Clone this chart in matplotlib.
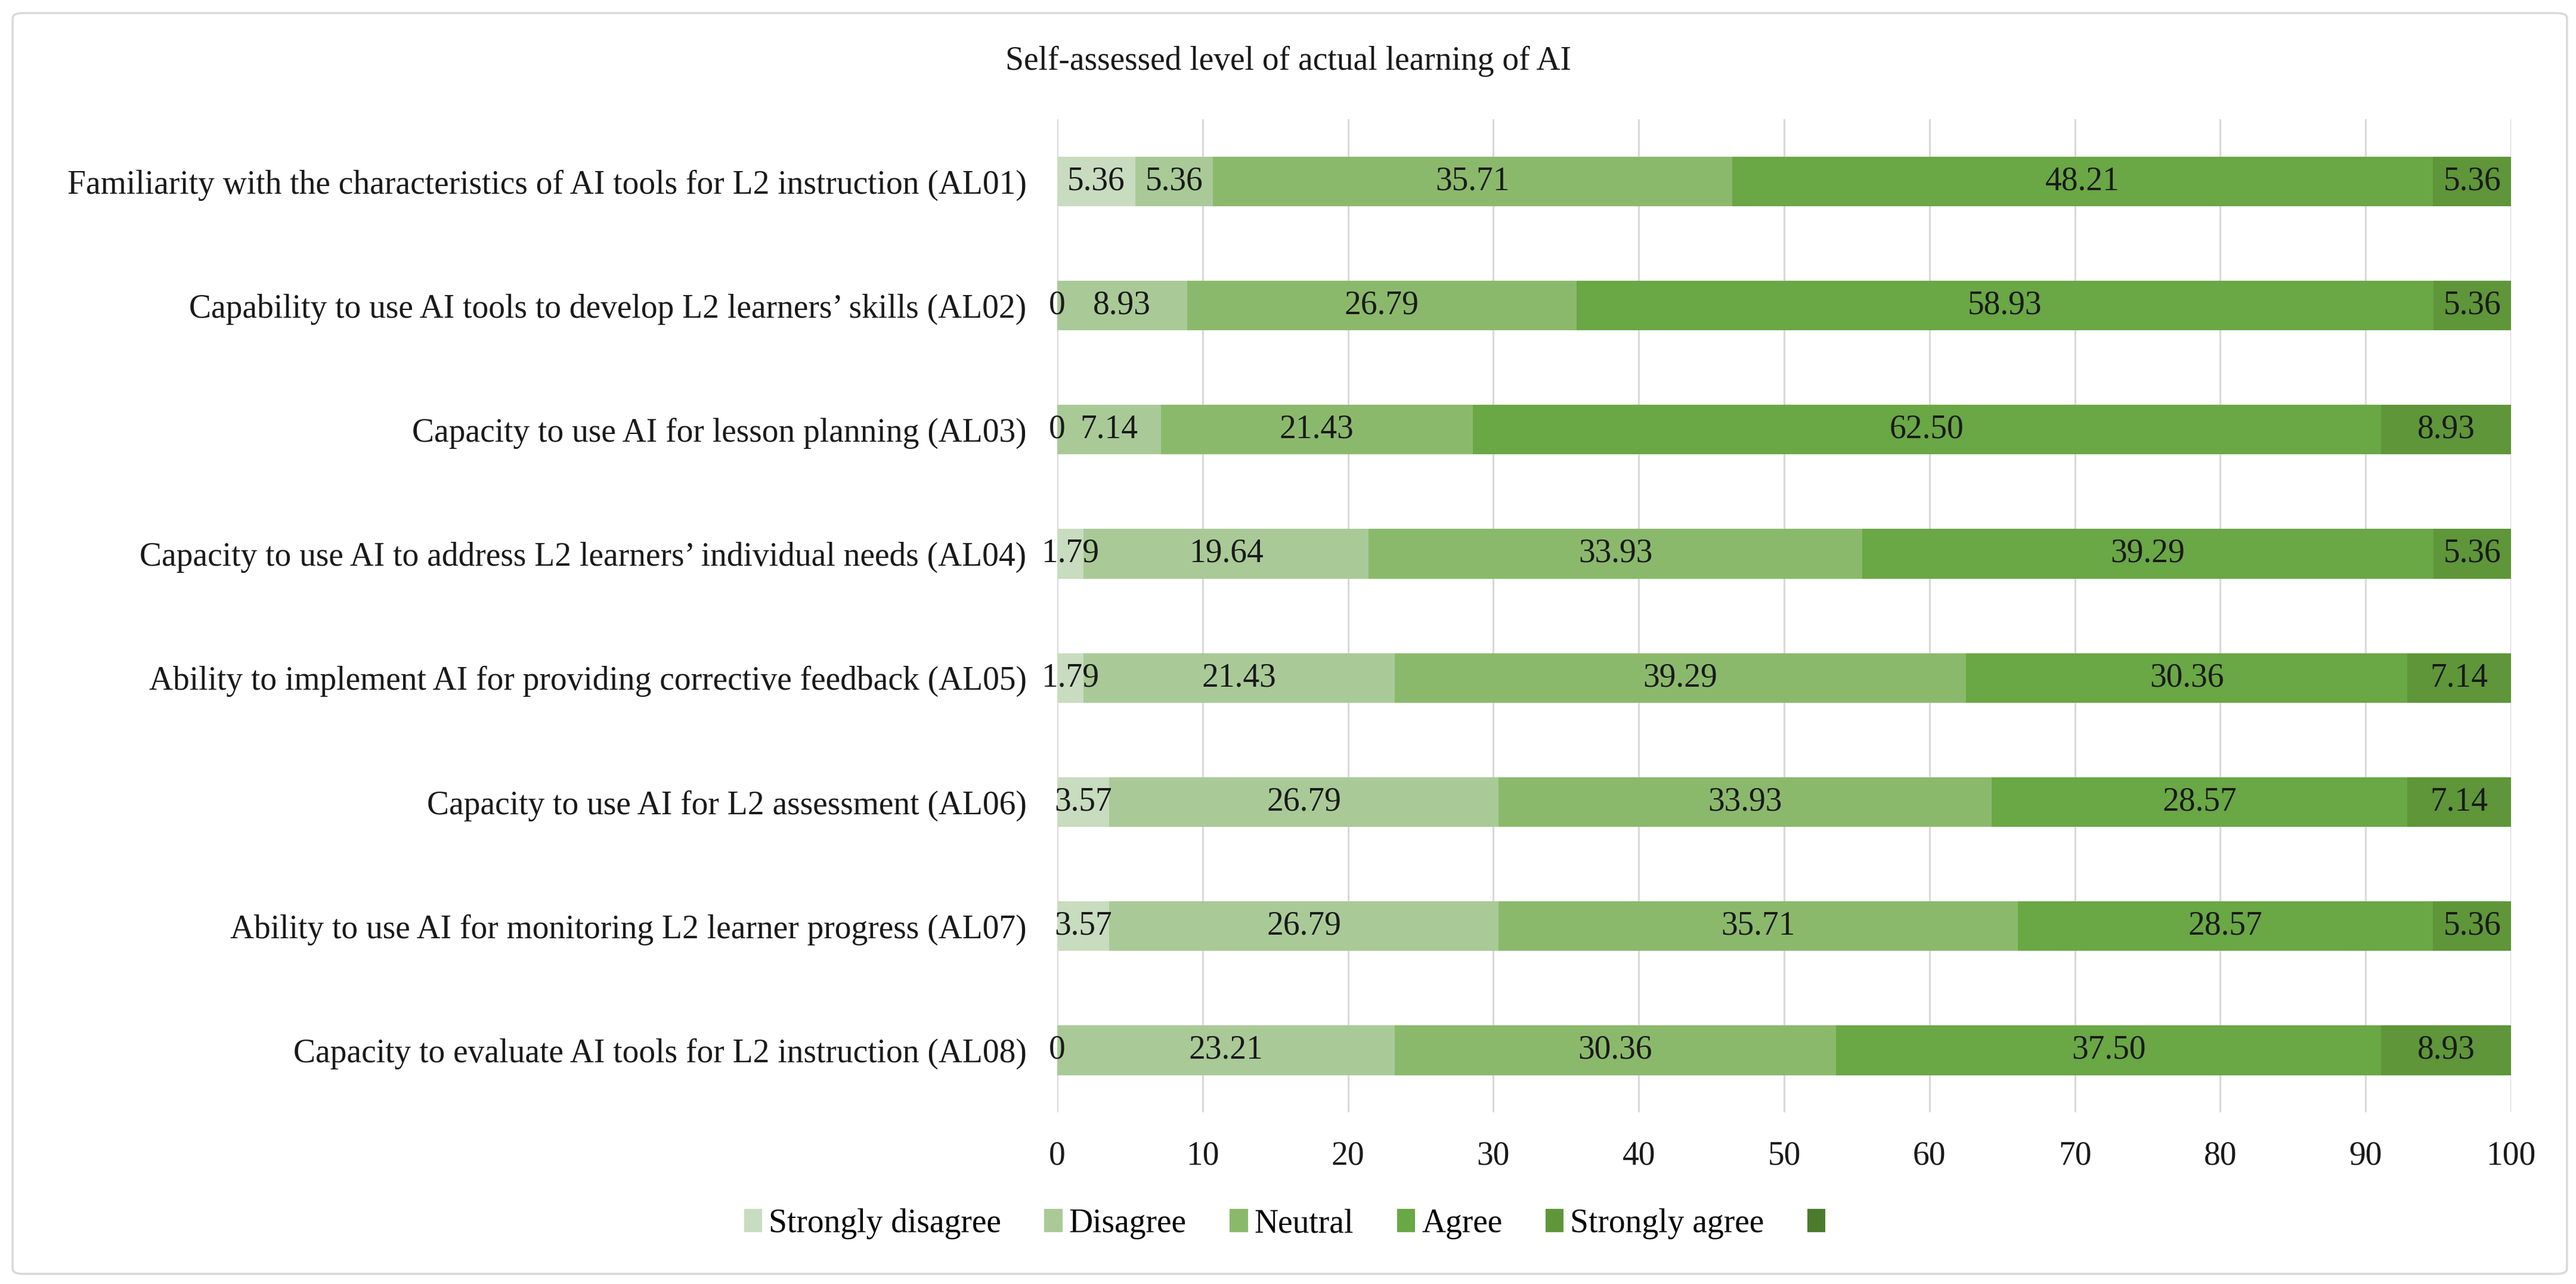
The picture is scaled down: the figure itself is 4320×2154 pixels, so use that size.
import matplotlib
matplotlib.use("Agg")
import matplotlib.pyplot as plt
from matplotlib.patches import Patch, FancyBboxPatch
import numpy as np

# chart data
items = [
    "Familiarity with the characteristics of AI tools for L2 instruction (AL01)",
    "Capability to use AI tools to develop L2 learners\u2019 skills (AL02)",
    "Capacity to use AI for lesson planning (AL03)",
    "Capacity to use AI to address L2 learners\u2019 individual needs (AL04)",
    "Ability to implement AI for providing corrective feedback (AL05)",
    "Capacity to use AI for L2 assessment (AL06)",
    "Ability to use AI for monitoring L2 learner progress (AL07)",
    "Capacity to evaluate AI tools for L2 instruction (AL08)",
]
strongly_disagree = [5.36, 0, 0, 1.79, 1.79, 3.57, 3.57, 0]
disagree = [5.36, 8.93, 7.14, 19.64, 21.43, 26.79, 26.79, 23.21]
neutral = [35.71, 26.79, 21.43, 33.93, 39.29, 33.93, 35.71, 30.36]
agree = [48.21, 58.93, 62.50, 39.29, 30.36, 28.57, 28.57, 37.50]
strongly_agree = [5.36, 5.36, 8.93, 5.36, 7.14, 7.14, 5.36, 8.93]
legend_labels = ["Strongly disagree", "Disagree", "Neutral", "Agree", "Strongly agree", ""]
x_ticks = [0, 10, 20, 30, 40, 50, 60, 70, 80, 90, 100]

series = [strongly_disagree, disagree, neutral, agree, strongly_agree]
colors = ["#c8dcbf", "#a9ca97", "#8bb96c", "#6aa745", "#5e9639", "#4c7b2d"]

plt.rcParams["font.family"] = ["Liberation Serif", "DejaVu Serif"]
FS = 40

fig = plt.figure(figsize=(43.2, 21.54), dpi=100)
ax = fig.add_axes([0.4104, 0.1337, 0.5644, 0.7734])

# outer frame
frame = FancyBboxPatch((0.0049, 0.0079), 0.9916, 0.9819,
                       boxstyle="round,pad=0,rounding_size=0.004",
                       transform=fig.transFigure, facecolor="none",
                       edgecolor="#d9d9d9", linewidth=2.5, zorder=0)
fig.patches.append(frame)

y = np.arange(len(items))
left = np.zeros(len(items))
for vals, col in zip(series, colors):
    bars = ax.barh(y, vals, left=left, height=0.4, color=col, zorder=3)
    for b, v in zip(bars, vals):
        txt = "0" if v == 0 else f"{v:.2f}"
        ax.text(b.get_x() + b.get_width() / 2, b.get_y() + b.get_height() / 2,
                txt, ha="center", va="center", fontsize=FS, color="#1a1a1a", zorder=4)
    left += np.array(vals)

ax.set_xlim(0, 100)
ax.set_ylim(len(items) - 0.5, -0.5)
ax.set_xticks(x_ticks)
ax.set_yticks(y)
ax.set_yticklabels(items)
ax.tick_params(axis="both", length=0, labelsize=FS, colors="#1a1a1a")
ax.tick_params(axis="y", pad=37)
ax.tick_params(axis="x", pad=34)
ax.grid(axis="x", color="#d9d9d9", linewidth=2.2, zorder=0)
for s in ax.spines.values():
    s.set_visible(False)

fig.text(0.5, 1 - 103 / 2154, "Self-assessed level of actual learning of AI",
         ha="center", va="center", fontsize=FS, color="#1a1a1a")

handles = [Patch(facecolor=c, edgecolor="none") for c in colors]
fig.legend(handles, legend_labels, loc="center", bbox_to_anchor=(0.5, 1 - 2053 / 2154),
           ncol=6, frameon=False, fontsize=FS, handlelength=0.55, handleheight=0.7,
           handletextpad=0.2, columnspacing=1.3)

plt.savefig("out.png", dpi=100)
